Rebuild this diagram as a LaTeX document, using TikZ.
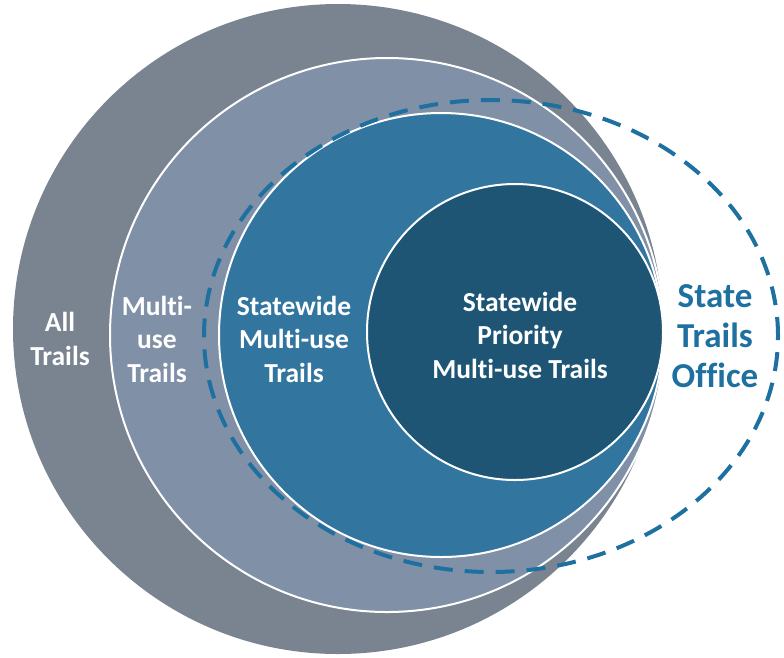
\documentclass[tikz,border=0pt]{standalone}
\usepackage{fontspec}
\setmainfont{Carlito}[Ligatures={NoCommon}]
\usetikzlibrary{shapes.geometric}
\definecolor{cAll}{HTML}{7A8491}
\definecolor{cMulti}{HTML}{8090A7}
\definecolor{cState}{HTML}{3276A0}
\definecolor{cPrio}{HTML}{1E5575}
\definecolor{cOffice}{HTML}{1E70A0}
\newcommand{\Mlt}{Mult\kern0pt i}
\tikzset{
  disc/.style={circle, inner sep=0pt, outer sep=0pt},
  ringline/.style={draw=white, line width=2pt},
  lbl/.style={text=white, font=\bfseries\fontsize{27.5}{33.5}\selectfont, align=center, inner sep=0pt},
  officelbl/.style={text=cOffice, font=\bfseries\fontsize{35}{40}\selectfont, align=center, inner sep=0pt},
  officeline/.style={draw=cOffice, line width=4pt, dash pattern=on 19pt off 12pt}
}
\begin{document}
\begin{tikzpicture}[x=1pt,y=-1pt]
\useasboundingbox (0,0) rectangle (784,657);
\node[disc, fill=cAll, minimum size=650pt] (all) at (338,329) {};
\node[disc, fill=cMulti, ringline, minimum size=554pt] (multi) at (387,335) {};
\node[disc, fill=cState, ringline, minimum size=444pt] (statewide) at (441,335) {};
\node[disc, fill=cPrio, ringline, minimum size=296pt] (prio) at (515,332) {};
\node[ellipse, officeline, inner sep=0pt, minimum width=574pt, minimum height=472pt] (office) at (491,336) {};
\node[lbl] (tAll) at (60,339) {All\\Trails};
\node[lbl] (tMulti) at (157,339) {\Mlt-\\use\\Trails};
\node[lbl] (tState) at (294,339) {Statewide\\\Mlt-use\\Trails};
\node[lbl] (tPrio) at (520,335) {Statewide\\Priority\\\Mlt-use Trails};
\node[officelbl] (tOffice) at (715,336) {State\\Trails\\Office};
\end{tikzpicture}
\end{document}
